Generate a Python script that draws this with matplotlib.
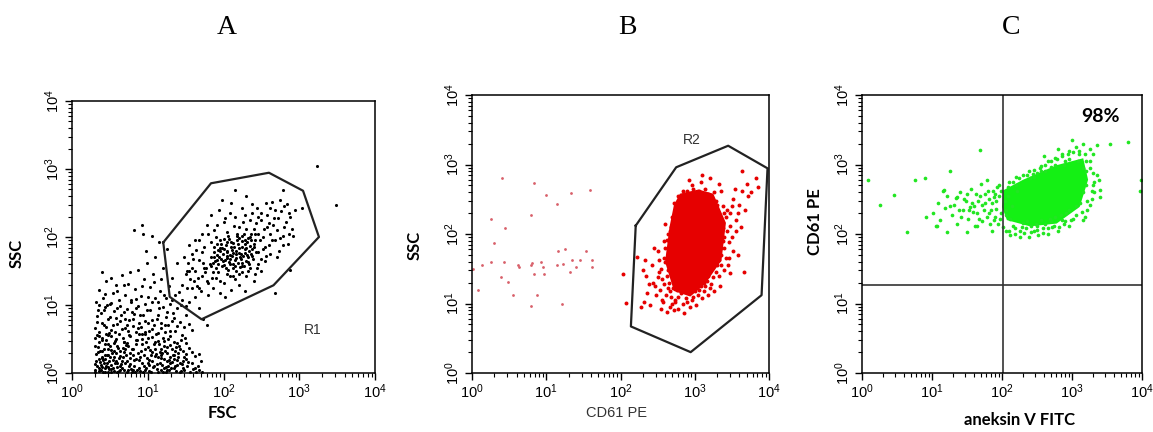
import matplotlib
matplotlib.use('Agg')
import matplotlib.pyplot as plt
import numpy as np
from matplotlib.ticker import LogLocator

plt.rcParams['font.family'] = ['Liberation Sans', 'DejaVu Sans']

# all event positions are log10 values (x, y)
a_debris = [
    (0.31, 0.02), (0.33, 0.10), (0.35, 0.21), (0.38, 0.04), (0.40, 0.33), (0.42, 0.15), (0.44, 0.07), (0.46, 0.26),
    (0.48, 0.01), (0.50, 0.40), (0.52, 0.12), (0.54, 0.19), (0.56, 0.03), (0.58, 0.30), (0.60, 0.09), (0.62, 0.22),
    (0.64, 0.05), (0.32, 0.28), (0.34, 0.38), (0.37, 0.16), (0.39, 0.24), (0.41, 0.02), (0.43, 0.43), (0.45, 0.11),
    (0.47, 0.35), (0.49, 0.18), (0.51, 0.06), (0.53, 0.29), (0.55, 0.44), (0.57, 0.14), (0.59, 0.02), (0.61, 0.37),
    (0.63, 0.25), (0.30, 0.13), (0.36, 0.07), (0.44, 0.20), (0.52, 0.01), (0.58, 0.17), (0.40, 0.09), (0.48, 0.27),
    (0.31, 0.52), (0.33, 0.75), (0.35, 0.61), (0.38, 0.88), (0.40, 0.49), (0.43, 0.97), (0.45, 0.68), (0.47, 0.56),
    (0.50, 0.82), (0.52, 0.63), (0.55, 0.91), (0.57, 0.47), (0.60, 0.72), (0.62, 0.58), (0.65, 0.85), (0.67, 0.51),
    (0.70, 0.66), (0.72, 0.94), (0.75, 0.78), (0.77, 0.54), (0.80, 0.69), (0.82, 0.87), (0.85, 0.60), (0.87, 0.99),
    (0.89, 0.74), (0.34, 0.93), (0.42, 0.71), (0.49, 0.59), (0.58, 0.81), (0.64, 0.99), (0.69, 0.45), (0.74, 0.62),
    (0.79, 0.90), (0.84, 0.48), (0.88, 0.57),
    (0.32, 1.05), (0.36, 1.22), (0.41, 1.11), (0.45, 1.35), (0.50, 1.02), (0.54, 1.18), (0.58, 1.29), (0.62, 1.08),
    (0.66, 1.44), (0.70, 1.15), (0.74, 1.31), (0.78, 1.04), (0.83, 1.24), (0.87, 1.52), (0.91, 1.13), (0.95, 1.38),
    (0.99, 1.62), (1.03, 1.27), (1.07, 1.46), (0.40, 1.48),
    (0.90, 0.03), (0.93, 0.15), (0.95, 0.27), (0.98, 0.08), (1.00, 0.38), (1.02, 0.19), (1.04, 0.02), (1.06, 0.31),
    (1.08, 0.11), (1.10, 0.45), (1.12, 0.06), (1.14, 0.24), (1.16, 0.14), (1.18, 0.36), (1.20, 0.01), (1.22, 0.20),
    (1.24, 0.09), (1.26, 0.29), (1.28, 0.04), (1.30, 0.41), (1.32, 0.16), (1.34, 0.07), (1.36, 0.33), (1.38, 0.12),
    (1.40, 0.23), (1.42, 0.02), (1.44, 0.48), (1.46, 0.18), (1.48, 0.05), (1.50, 0.28), (1.52, 0.10), (1.54, 0.37),
    (0.92, 0.50), (0.97, 0.57), (1.01, 0.12), (1.05, 0.53), (1.09, 0.25), (1.13, 0.59), (1.17, 0.05), (1.21, 0.47),
    (1.25, 0.17), (1.29, 0.55), (1.33, 0.26), (1.37, 0.03), (1.41, 0.39), (1.45, 0.13), (1.49, 0.52), (1.19, 0.30),
    (1.27, 0.10), (1.35, 0.21),
    (0.66, 0.08), (0.68, 0.31), (0.70, 0.14), (0.72, 0.02), (0.74, 0.39), (0.76, 0.22), (0.78, 0.06), (0.80, 0.27),
    (0.82, 0.11), (0.84, 0.43), (0.86, 0.04), (0.88, 0.19), (0.67, 0.24), (0.71, 0.41), (0.75, 0.10), (0.79, 0.35),
    (0.83, 0.01), (0.87, 0.30), (0.73, 0.17), (0.81, 0.05),
    (0.91, 0.68), (0.94, 0.85), (0.97, 1.02), (1.00, 0.73), (1.03, 0.92), (1.06, 0.64), (1.09, 1.10), (1.12, 0.79),
    (1.15, 0.96), (1.18, 0.66), (1.21, 1.15), (1.24, 0.83), (1.27, 0.70), (1.30, 1.01), (1.33, 0.88), (1.36, 0.62),
    (1.39, 0.95), (1.42, 0.75), (1.45, 1.08), (1.48, 0.67), (1.51, 0.86), (1.55, 0.72), (1.58, 0.63), (0.96, 0.61),
    (1.05, 0.78), (1.14, 1.04), (1.23, 0.61), (1.32, 0.77), (1.41, 1.19), (1.50, 0.98),
    (1.56, 0.02), (1.58, 0.14), (1.60, 0.06), (1.62, 0.25), (1.64, 0.01), (1.66, 0.10), (1.68, 0.04), (1.70, 0.18),
    (1.59, 0.31), (1.63, 0.08), (1.72, 0.02), (1.67, 0.28),
    (0.82, 2.10), (0.93, 2.17), (0.94, 2.05), (1.05, 2.02), (1.15, 1.93), (0.98, 1.80), (1.10, 1.70), (1.20, 1.55),
    (1.25, 1.83), (1.32, 1.40), (1.38, 1.62), (1.45, 1.30), (1.52, 1.50), (1.58, 1.25), (1.62, 1.12), (1.68, 0.95),
    (1.73, 0.80), (1.78, 0.70), (1.28, 1.28), (1.18, 1.38),
    (0.96, 0.05), (0.99, 0.22), (1.03, 0.34), (1.07, 0.09), (1.11, 0.28), (1.15, 0.42), (1.19, 0.12), (1.23, 0.33),
    (1.27, 0.50), (1.31, 0.07), (1.35, 0.27), (1.39, 0.44), (1.43, 0.15), (1.47, 0.32), (1.51, 0.21), (0.98, 0.46),
    (1.02, 0.03), (1.06, 0.17), (1.10, 0.36), (1.14, 0.02), (1.18, 0.22), (1.22, 0.40), (1.26, 0.04), (1.30, 0.24),
    (1.34, 0.46), (1.38, 0.19), (1.42, 0.35), (1.46, 0.08), (1.50, 0.44), (1.53, 0.16), (1.00, 0.15), (1.04, 0.27),
    (1.08, 0.42), (1.12, 0.13), (1.16, 0.31), (1.20, 0.52), (1.24, 0.02), (1.28, 0.19), (1.32, 0.35), (1.36, 0.10),
    (1.40, 0.30), (1.44, 0.03), (1.48, 0.24), (1.13, 0.47), (1.21, 0.08), (1.29, 0.14), (1.37, 0.38), (1.45, 0.56),
    (1.17, 0.26), (1.25, 0.38),
    (0.30, 0.05), (0.32, 0.18), (0.34, 0.31), (0.36, 0.45), (0.38, 0.12), (0.40, 0.22), (0.42, 0.36), (0.44, 0.01),
    (0.46, 0.14), (0.48, 0.42), (0.50, 0.24), (0.52, 0.34), (0.54, 0.08), (0.56, 0.23), (0.58, 0.50), (0.60, 0.15),
    (0.62, 0.03), (0.64, 0.32), (0.66, 0.18), (0.68, 0.46), (0.31, 0.40), (0.35, 0.03), (0.39, 0.51), (0.43, 0.27),
    (0.47, 0.09), (0.51, 0.55), (0.55, 0.33), (0.59, 0.40), (0.63, 0.11), (0.67, 0.37), (0.33, 0.56), (0.37, 0.33),
    (0.41, 0.19), (0.45, 0.48), (0.49, 0.06),
    (0.30, 0.66), (0.33, 0.84), (0.36, 0.55), (0.39, 0.73), (0.42, 0.92), (0.45, 0.58), (0.48, 0.79), (0.51, 1.03),
    (0.54, 0.70), (0.57, 0.61), (0.60, 0.95), (0.63, 0.77), (0.66, 0.64), (0.69, 0.89), (0.72, 0.70), (0.75, 0.56),
    (0.78, 1.07), (0.81, 0.79), (0.84, 0.95), (0.87, 0.66), (0.90, 0.86), (0.93, 0.58), (0.96, 0.77), (0.99, 0.93),
    (1.02, 0.62), (1.05, 1.05), (1.08, 0.71), (1.11, 0.58), (1.14, 0.86), (1.17, 0.74), (1.20, 0.97), (1.23, 0.70),
    (1.26, 0.89), (1.29, 0.62), (1.32, 1.08), (1.35, 0.81), (1.38, 0.69), (0.46, 1.00), (0.70, 0.80), (1.00, 0.52),
    (0.65, 0.13), (0.69, 0.05), (0.71, 0.27), (0.73, 0.44), (0.77, 0.13), (0.79, 0.01), (0.81, 0.36), (0.85, 0.21),
    (0.89, 0.08), (0.91, 0.33), (0.93, 0.42), (0.95, 0.10), (0.97, 0.35), (0.70, 0.36), (0.76, 0.30), (0.82, 0.19),
    (0.86, 0.48), (0.90, 0.24), (0.94, 0.01), (0.74, 0.05),
    (0.35, 1.00), (0.44, 1.16), (0.52, 1.40), (0.60, 1.20), (0.68, 1.30), (0.76, 1.48), (0.84, 1.09), (0.92, 1.28),
    (1.00, 1.12), (1.08, 1.34), (1.16, 1.20), (1.24, 1.10), (1.36, 1.15), (1.44, 1.00), (1.55, 1.05),
]

a_cells = [
    (1.86, 1.62), (1.88, 1.78), (1.90, 1.55), (1.92, 1.90), (1.94, 1.70), (1.96, 1.84), (1.98, 1.58), (2.00, 1.97),
    (2.02, 1.66), (2.04, 1.80), (2.06, 1.52), (2.08, 1.74), (2.10, 1.92), (2.12, 1.61), (2.14, 1.86), (2.16, 1.69),
    (2.18, 2.01), (2.20, 1.77), (2.22, 1.56), (2.24, 1.94), (2.26, 1.72), (2.28, 1.83), (2.30, 1.64), (2.32, 1.99),
    (2.34, 1.79), (1.87, 1.71), (1.91, 1.66), (1.95, 1.95), (1.99, 1.75), (2.03, 1.88), (2.07, 1.63), (2.11, 1.81),
    (2.15, 1.58), (2.19, 1.89), (2.23, 1.67), (2.27, 2.04), (2.31, 1.73), (2.35, 1.87), (1.93, 1.81), (2.01, 1.59),
    (2.05, 1.93), (2.09, 1.68), (2.13, 1.76), (2.17, 1.50), (2.21, 1.84), (2.25, 1.62), (2.29, 1.95), (2.33, 1.70),
    (1.97, 1.68), (2.05, 1.72),
    (1.50, 1.45), (1.53, 1.62), (1.56, 1.38), (1.59, 1.75), (1.62, 1.50), (1.65, 1.28), (1.68, 1.66), (1.71, 1.42),
    (1.74, 1.85), (1.77, 1.55), (1.80, 1.33), (1.83, 1.70), (1.52, 1.25), (1.58, 1.55), (1.64, 1.81), (1.70, 1.20),
    (1.76, 1.48), (1.82, 1.60), (1.55, 1.88), (1.61, 1.35), (1.67, 1.96), (1.73, 1.62), (1.79, 1.15), (1.85, 1.40),
    (1.48, 1.70),
    (1.86, 1.25), (1.90, 1.40), (1.95, 1.18), (2.00, 1.33), (2.05, 1.45), (2.10, 1.22), (2.15, 1.38), (2.20, 1.30),
    (2.25, 1.48), (2.30, 1.42), (2.35, 1.55), (2.40, 1.35), (2.45, 1.60), (2.50, 1.50), (2.55, 1.65), (1.93, 1.48),
    (2.02, 1.12), (2.12, 1.43), (2.28, 1.20), (2.42, 1.45),
    (1.72, 2.05), (1.78, 2.18), (1.83, 2.32), (1.88, 2.10), (1.94, 2.40), (2.00, 2.22), (2.05, 2.08), (2.10, 2.50),
    (2.15, 2.30), (2.20, 2.15), (2.25, 2.42), (2.30, 2.60), (2.35, 2.25), (2.40, 2.12), (1.98, 2.55), (2.08, 2.35),
    (2.18, 2.05), (2.28, 2.32), (2.38, 2.48), (1.90, 2.00),
    (2.36, 2.05), (2.40, 1.90), (2.43, 2.20), (2.46, 1.78), (2.49, 2.35), (2.52, 2.00), (2.55, 1.85), (2.58, 2.15),
    (2.61, 2.42), (2.64, 1.95), (2.67, 2.28), (2.70, 2.10), (2.73, 1.80), (2.76, 2.38), (2.79, 2.02), (2.82, 2.22),
    (2.85, 1.90), (2.88, 2.30), (2.91, 2.12), (2.94, 2.40), (2.38, 1.72), (2.44, 2.42), (2.50, 1.68), (2.56, 2.50),
    (2.62, 1.75), (2.68, 1.95), (2.74, 2.55), (2.80, 2.45), (2.86, 2.05), (2.60, 2.20),
    (2.15, 2.69), (2.79, 2.69), (2.88, 1.51), (2.68, 1.18), (3.03, 2.42), (3.23, 3.04), (3.49, 2.47),
    (1.84, 1.58), (1.87, 1.85), (1.89, 1.65), (1.91, 1.74), (1.93, 1.61), (1.95, 1.79), (1.97, 1.89), (1.99, 1.64),
    (2.01, 1.82), (2.03, 1.55), (2.05, 1.78), (2.07, 1.97), (2.09, 1.60), (2.11, 1.72), (2.13, 1.91), (2.15, 1.66),
    (2.17, 1.80), (2.19, 1.62), (2.21, 1.98), (2.23, 1.75), (2.25, 1.85), (2.27, 1.58), (2.29, 1.77), (2.31, 1.92),
    (2.33, 1.63), (2.35, 2.00), (2.37, 1.82), (2.39, 1.68), (2.41, 1.95), (2.43, 1.78), (2.45, 2.05), (1.98, 1.84),
    (2.04, 1.69), (2.10, 1.86), (2.16, 1.75), (2.22, 1.70), (2.28, 1.89), (2.34, 1.60), (2.40, 1.86), (2.06, 2.02),
    (2.12, 1.54), (2.18, 1.96), (2.24, 1.57), (2.30, 1.84), (2.36, 1.75),
    (1.55, 1.50), (1.60, 1.68), (1.66, 1.40), (1.72, 1.78), (1.78, 1.36), (1.84, 1.92), (1.62, 1.95), (1.68, 1.25),
    (1.74, 1.55), (1.80, 2.05), (1.86, 1.48), (1.92, 2.18), (1.96, 1.35), (2.02, 2.28), (2.08, 1.42), (2.14, 2.16),
    (2.20, 1.45), (2.26, 2.22), (2.32, 1.50), (2.38, 2.35), (2.44, 1.55), (2.50, 2.25), (2.56, 1.72), (2.62, 2.05),
    (2.68, 2.40), (2.74, 1.98), (2.80, 2.15), (2.86, 2.35), (2.92, 2.02), (2.48, 1.95), (2.54, 2.12), (2.60, 1.88),
    (2.66, 2.18), (2.72, 2.28), (2.78, 1.88), (2.84, 2.48), (2.46, 2.30), (2.52, 1.82), (2.58, 2.32), (2.64, 2.52),
    (2.70, 1.70), (2.42, 2.05), (2.36, 1.95), (2.30, 2.12), (2.24, 2.02),
]

gate_r1 = [(1.205, 1.92), (1.835, 2.79), (2.60, 2.945), (3.05, 2.68), (3.26, 2.00),
           (2.66, 1.29), (1.71, 0.79), (1.29, 1.12)]

b_core = [(2.80, 2.58), (3.05, 2.64), (3.25, 2.58), (3.42, 2.16), (3.36, 1.62), (3.14, 1.28),
          (2.94, 1.10), (2.72, 1.18), (2.60, 1.60), (2.66, 2.10), (2.72, 2.42)]

b_halo = [
    (2.32, 1.02), (2.36, 1.15), (2.40, 0.98), (2.44, 1.30), (2.48, 1.12), (2.52, 1.45), (2.56, 1.05), (2.60, 1.60),
    (2.64, 1.22), (2.68, 1.85), (2.35, 1.40), (2.42, 1.55), (2.50, 1.75), (2.58, 1.90), (2.66, 2.05), (2.46, 1.25),
    (2.54, 0.92), (2.62, 0.88), (2.70, 1.00), (2.38, 1.28), (2.30, 1.48), (2.56, 1.35), (2.64, 1.48), (2.52, 1.62),
    (2.60, 2.15), (2.68, 1.10), (2.45, 1.80), (2.28, 0.95), (2.33, 1.62), (2.72, 0.90),
    (2.74, 1.05), (2.78, 0.92), (2.82, 1.15), (2.86, 0.86), (2.90, 1.02), (2.94, 0.95), (2.98, 1.10), (3.02, 0.98),
    (3.06, 1.20), (3.10, 1.08), (3.14, 1.25), (3.18, 1.12), (3.22, 1.28), (3.26, 1.18), (2.80, 1.25), (2.88, 1.18),
    (2.96, 1.24), (3.04, 1.30), (2.76, 1.20), (2.84, 1.00),
    (3.32, 1.40), (3.36, 1.55), (3.40, 1.80), (3.44, 2.05), (3.48, 2.30), (3.52, 2.50), (3.56, 2.20), (3.60, 2.42),
    (3.64, 2.62), (3.68, 2.35), (3.72, 2.55), (3.35, 1.95), (3.42, 2.25), (3.50, 1.95), (3.58, 1.70), (3.38, 2.40),
    (3.46, 1.65), (3.54, 2.65), (3.62, 2.10), (3.70, 2.72), (3.34, 1.25), (3.40, 1.48), (3.76, 2.60), (3.66, 1.45),
    (3.83, 2.80),
    (2.72, 2.45), (2.78, 2.55), (2.84, 2.62), (2.90, 2.50), (2.96, 2.70), (3.02, 2.58), (3.08, 2.75), (3.14, 2.65),
    (3.20, 2.80), (3.26, 2.60), (3.32, 2.72), (2.80, 2.38), (2.92, 2.78), (3.04, 2.42), (3.16, 2.52), (3.28, 2.48),
    (3.36, 2.62), (2.86, 2.30), (3.10, 2.85), (3.22, 2.40),
    (2.70, 1.50), (2.74, 2.20), (2.78, 1.35), (2.82, 2.35), (2.88, 1.22), (3.00, 2.55), (3.12, 1.30), (3.24, 2.45),
    (3.30, 1.55), (3.35, 2.00), (3.33, 1.75), (3.30, 2.30), (2.72, 1.75), (2.69, 1.95), (2.76, 1.62), (2.80, 2.10),
    (3.18, 1.40), (3.28, 1.62), (3.36, 2.15), (2.98, 1.20), (3.06, 2.50), (2.92, 2.45), (2.66, 1.70), (2.73, 1.28),
    (3.15, 2.58), (3.38, 1.90), (2.84, 1.40), (3.26, 2.25), (3.20, 1.50), (2.94, 2.40),
    (3.47, 1.44), (3.63, 2.90), (3.85, 2.67), (2.04, 1.43), (2.08, 1.01), (2.22, 1.67),
    (2.55, 1.50), (2.58, 1.28), (2.60, 1.80), (2.62, 1.40), (2.64, 2.00), (2.66, 1.18), (2.68, 1.60), (2.70, 2.25),
    (2.72, 1.42), (2.74, 1.88), (2.76, 2.40), (2.78, 1.10), (2.80, 1.55), (2.82, 2.50), (2.84, 1.20), (2.86, 2.58),
    (2.88, 1.08), (2.90, 2.62), (2.92, 1.15), (2.94, 2.56), (2.96, 1.05), (2.98, 2.65), (3.00, 1.18), (3.02, 2.48),
    (3.04, 1.12), (3.06, 2.62), (3.08, 1.25), (3.10, 2.55), (3.12, 1.18), (3.14, 2.45), (3.16, 1.32), (3.18, 2.58),
    (3.20, 1.22), (3.22, 2.50), (3.24, 1.38), (3.26, 2.35), (3.28, 1.45), (3.30, 2.42), (3.32, 1.62), (3.34, 2.25),
    (3.36, 1.80), (3.38, 2.08), (3.40, 1.95), (3.42, 1.65), (3.44, 2.35), (3.46, 1.88), (3.48, 2.12), (3.50, 2.40),
    (3.52, 1.75), (3.55, 2.05), (2.58, 1.65), (2.62, 1.92), (2.65, 1.30), (2.68, 2.10), (2.71, 1.22), (2.75, 1.48),
    (2.79, 2.28), (2.83, 1.30), (2.87, 2.42), (2.91, 1.28), (2.95, 2.52), (2.99, 1.32), (3.03, 2.60), (3.07, 1.35),
    (3.11, 2.40), (3.15, 1.45), (3.19, 2.35), (3.23, 1.55), (3.27, 2.12), (3.31, 1.85), (3.35, 1.70), (3.39, 2.30),
    (2.50, 1.38), (2.53, 1.20), (2.57, 1.02), (2.61, 1.12), (2.67, 0.95), (2.73, 1.02), (3.45, 1.55), (3.58, 2.30),
]

b_outliers = [
    (0.40, 2.80), (0.83, 2.73), (1.59, 2.64), (1.34, 2.59), (0.99, 2.56), (1.14, 2.43), (0.79, 2.27), (0.25, 2.22),
    (0.45, 2.08), (0.30, 1.87), (0.25, 1.60), (0.43, 1.60), (0.13, 1.55), (0.62, 1.55), (0.63, 1.52), (0.79, 1.55),
    (0.81, 1.58), (0.93, 1.59), (1.14, 1.55), (1.16, 1.76), (1.25, 1.79), (1.23, 1.57), (1.35, 1.63), (1.40, 1.52),
    (1.45, 1.63), (1.54, 1.75), (1.61, 1.63), (1.61, 1.52), (0.96, 1.52), (0.83, 1.43), (0.97, 1.43), (0.49, 1.31),
    (0.39, 1.38), (0.08, 1.20), (0.55, 1.12), (0.88, 1.12), (0.80, 0.96), (1.21, 0.99), (0.01, 1.49), (1.32, 1.46),
]

gate_r2 = [(2.205, 2.12), (2.75, 2.96), (3.45, 3.27), (3.98, 2.945), (3.90, 1.12),
           (2.945, 0.30), (2.14, 0.67)]

c_core = [(2.02, 2.63), (2.30, 2.78), (2.78, 2.99), (3.16, 3.09), (3.23, 2.78), (3.11, 2.39),
          (2.78, 2.15), (2.40, 2.11), (2.07, 2.20), (2.00, 2.39)]

c_halo = [
    (0.09, 2.78), (0.26, 2.42), (0.64, 2.03), (0.92, 2.25), (1.69, 3.21), (3.54, 3.30), (3.80, 3.33), (3.99, 2.78),
    (3.97, 2.62), (3.40, 2.63), (3.40, 2.53), (0.45, 2.56), (0.76, 2.78), (0.90, 2.81), (1.26, 2.90), (1.17, 2.63),
    (1.07, 2.11), (1.21, 2.03), (1.35, 2.53), (1.54, 2.39), (1.64, 2.11), (1.78, 2.78), (1.88, 2.53), (1.90, 2.25),
    (1.50, 2.03),
    (1.02, 2.30), (1.08, 2.45), (1.12, 2.20), (1.18, 2.38), (1.22, 2.55), (1.28, 2.28), (1.32, 2.42), (1.36, 2.15),
    (1.40, 2.60), (1.44, 2.35), (1.48, 2.48), (1.52, 2.22), (1.56, 2.65), (1.60, 2.40), (1.64, 2.30), (1.68, 2.55),
    (1.72, 2.18), (1.76, 2.45), (1.80, 2.62), (1.84, 2.35), (1.88, 2.20), (1.92, 2.48), (1.96, 2.70), (1.98, 2.30),
    (1.62, 2.12), (1.70, 2.72), (1.78, 2.25), (1.86, 2.05), (1.94, 2.15), (1.90, 2.58), (1.82, 2.50), (1.74, 2.35),
    (1.66, 2.48), (1.58, 2.32), (1.50, 2.58), (1.42, 2.25), (1.34, 2.52), (1.26, 2.40), (1.15, 2.62), (1.05, 2.12),
    (2.05, 2.05), (2.12, 1.98), (2.18, 2.08), (2.25, 1.95), (2.32, 2.02), (2.38, 1.96), (2.45, 2.05), (2.52, 1.98),
    (2.58, 2.08), (2.65, 2.00), (2.72, 2.10), (2.80, 2.05), (2.88, 2.15), (2.95, 2.12), (3.02, 2.22), (2.15, 2.12),
    (2.28, 2.10), (2.42, 2.12), (2.62, 2.14), (2.85, 2.20),
    (2.35, 2.85), (2.45, 2.92), (2.55, 2.98), (2.65, 3.05), (2.75, 3.10), (2.85, 3.15), (2.95, 3.20), (3.05, 3.25),
    (3.15, 3.30), (3.25, 3.22), (3.35, 3.28), (2.50, 2.88), (2.70, 2.96), (2.90, 3.05), (3.10, 3.15), (3.20, 3.05),
    (2.60, 3.12), (2.80, 3.22), (3.00, 3.35), (3.30, 3.15), (2.20, 2.82), (2.10, 2.75),
    (3.25, 2.95), (3.30, 2.70), (3.28, 2.50), (3.35, 2.85), (3.22, 2.35), (3.18, 2.25), (3.32, 2.60), (3.38, 2.78),
    (3.15, 2.20), (3.26, 2.42),
    (2.05, 2.35), (2.08, 2.55), (2.12, 2.22), (2.20, 2.70), (2.30, 2.16), (2.50, 2.12), (2.70, 2.18), (2.92, 2.30),
    (3.05, 2.40), (3.15, 2.60), (3.20, 2.90), (3.08, 3.05), (2.88, 3.00), (2.62, 2.90), (2.40, 2.80),
    (2.02, 2.10), (2.06, 2.28), (2.10, 2.05), (2.14, 2.40), (2.18, 2.00), (2.22, 2.62), (2.26, 2.04), (2.30, 2.85),
    (2.34, 2.08), (2.38, 2.90), (2.42, 2.03), (2.46, 2.82), (2.50, 2.06), (2.54, 2.95), (2.58, 2.02), (2.62, 3.00),
    (2.66, 2.08), (2.70, 3.05), (2.74, 2.12), (2.78, 3.08), (2.82, 2.10), (2.86, 3.12), (2.90, 2.18), (2.94, 3.15),
    (2.98, 2.20), (3.02, 3.18), (3.06, 2.28), (3.10, 3.20), (3.14, 2.32), (3.18, 3.15), (3.22, 2.48), (3.26, 3.05),
    (3.28, 2.62), (3.30, 2.88), (3.32, 2.75), (2.04, 2.48), (2.08, 2.68), (2.16, 2.75), (2.24, 2.80), (2.36, 2.18),
    (2.48, 2.15), (2.56, 2.20), (2.68, 2.22), (2.76, 2.25), (2.84, 2.28), (2.96, 2.35), (3.12, 2.45), (3.20, 2.70),
    (3.16, 2.95), (2.96, 3.08), (2.76, 3.00), (2.56, 2.90), (2.44, 2.86), (1.92, 2.36), (1.95, 2.55), (1.97, 2.22),
    (1.99, 2.62), (1.93, 2.68), (1.85, 2.44), (1.87, 2.62), (1.81, 2.30), (1.83, 2.15), (1.76, 2.58), (1.71, 2.42),
    (1.67, 2.22), (1.63, 2.58), (1.57, 2.45), (1.53, 2.35), (1.45, 2.50), (1.38, 2.35),
]

quad_x = 2.02
quad_y = 1.27


def unzip(pairs):
    arr = np.array(pairs)
    return 10 ** arr[:, 0], 10 ** arr[:, 1]


def style_axes(ax):
    ax.set_xscale('log')
    ax.set_yscale('log')
    ax.set_xlim(1, 1e4)
    ax.set_ylim(1, 1e4)
    for a in (ax.xaxis, ax.yaxis):
        a.set_major_locator(LogLocator(base=10, numticks=10))
        a.set_minor_locator(LogLocator(base=10, subs=np.arange(2, 10), numticks=10))
    ax.tick_params(which='major', direction='out', length=5, width=1, labelsize=10.5, pad=2)
    ax.tick_params(which='minor', direction='out', length=3, width=0.8)
    ax.tick_params(axis='y', labelrotation=90)
    for lbl in ax.get_yticklabels():
        lbl.set_va('center')
    for sp in ax.spines.values():
        sp.set_linewidth(1.1)


W, H = 1153, 432
fig = plt.figure(figsize=(W / 100, H / 100), dpi=100)


def px_axes(x0, y0, x1, y1):
    return fig.add_axes([x0 / W, 1 - y1 / H, (x1 - x0) / W, (y1 - y0) / H])


# panel A
axA = px_axes(72, 101, 375, 373)
style_axes(axA)
x, y = unzip(a_debris)
axA.scatter(x, y, s=5, c='black', linewidths=0, clip_on=False)
x, y = unzip(a_cells)
axA.scatter(x, y, s=5, c='black', linewidths=0)
gx, gy = unzip(gate_r1 + gate_r1[:1])
axA.plot(gx, gy, color='#222222', lw=1.6)
axA.text(10 ** 3.18, 10 ** 0.63, 'R1', fontsize=10, color='#333333', ha='center', va='center')

# panel B
axB = px_axes(472, 95, 769, 373)
style_axes(axB)
cx, cy = unzip(b_core)
axB.fill(cx, cy, color='#e60000', lw=0)
x, y = unzip(b_halo)
axB.scatter(x, y, s=8, c='#e60000', linewidths=0)
x, y = unzip(b_outliers)
axB.scatter(x, y, s=4, c='#d8606a', linewidths=0)
gx, gy = unzip(gate_r2 + gate_r2[:1])
axB.plot(gx, gy, color='#222222', lw=1.6)
axB.text(10 ** 2.96, 10 ** 3.35, 'R2', fontsize=10, color='#333333', ha='center', va='center')

# panel C
axC = px_axes(862, 95, 1142, 373)
style_axes(axC)
cx, cy = unzip(c_core)
axC.fill(cx, cy, color='#14f014', lw=0)
x, y = unzip(c_halo)
axC.scatter(x, y, s=7, c='#22e622', linewidths=0)
axC.axvline(10 ** quad_x, color='#333333', lw=1.2)
axC.axhline(10 ** quad_y, color='#333333', lw=1.2)
axC.text(10 ** 3.4, 10 ** 3.69, '98%', fontsize=14, fontweight='bold', family=['Lato', 'DejaVu Sans'],
         ha='center', va='center')

# panel letters and axis titles
for letter, xc in (('A', 227), ('B', 627), ('C', 1011)):
    fig.text(xc / W, 1 - 27 / H, letter, fontsize=20, family=['Liberation Serif'], ha='center', va='center')

bold = dict(fontsize=12, fontweight='bold', family=['Lato', 'DejaVu Sans'], ha='center', va='center')
fig.text(222 / W, 1 - 413 / H, 'FSC', **bold)
fig.text(17 / W, 1 - 253 / H, 'SSC', rotation=90, **bold)
fig.text(415 / W, 1 - 245 / H, 'SSC', rotation=90, **bold)
fig.text(617 / W, 1 - 413 / H, 'CD61 PE', fontsize=10.5, color='#333333', ha='center', va='center')
fig.text(815 / W, 1 - 222 / H, 'CD61 PE', rotation=90, **bold)
fig.text(1020 / W, 1 - 420 / H, 'aneksin V FITC', **bold)

fig.savefig('out.png', dpi=100)
